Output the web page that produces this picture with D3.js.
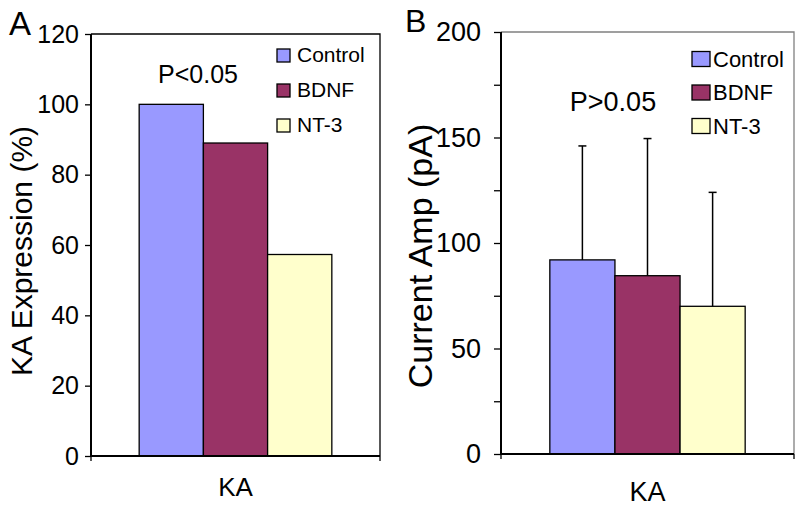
<!DOCTYPE html>
<html><head><meta charset="utf-8">
<script src="https://cdn.jsdelivr.net/npm/d3@7"></script>
<style>body{margin:0;background:#fff}svg{display:block}text{font-family:Arial,"Liberation Sans",sans-serif;fill:#000}</style>
</head><body><svg id="c" width="800" height="507"></svg>
<script>
const categories = ["KA"];
const series = ["Control", "BDNF", "NT-3"];
const colors = ["#9999FF", "#993366", "#FFFFCC"];
const valuesA = [100, 89, 57.3];
const valuesB = [92, 84.5, 70];
const errorsB = [54, 65, 54];
const ticksA = [0, 20, 40, 60, 80, 100, 120];
const ticksB = [0, 50, 100, 150, 200];
const minorTicksB = [25, 75, 125, 175];

const svg = d3.select("#c");

function panel(cfg) {
  const g = svg.append("g");
  const y = d3.scaleLinear().domain(cfg.domain).range([cfg.bottom, cfg.top]);
  const x0 = d3.scaleBand().domain(categories).range([cfg.left, cfg.right]);
  const bw = x0.bandwidth();
  const off = bw * 0.75 / 4.5;
  const x1 = d3.scaleBand().domain(series).range([off, bw - off]);

  g.append("path")
    .attr("d", `M${cfg.left},${cfg.top}H${cfg.right}V${cfg.bottom}`)
    .attr("fill", "none").attr("stroke", cfg.borderColor).attr("stroke-width", 1.3);

  categories.forEach(cat => {
    series.forEach((s, i) => {
      g.append("rect")
        .attr("x", x0(cat) + x1(s))
        .attr("y", y(cfg.values[i]))
        .attr("width", x1.bandwidth())
        .attr("height", y(0) - y(cfg.values[i]))
        .attr("fill", colors[i])
        .attr("stroke", "#000").attr("stroke-width", 1.3);
      if (cfg.errors) {
        const cx = x0(cat) + x1(s) + x1.bandwidth() / 2;
        const top = y(cfg.values[i] + cfg.errors[i]);
        g.append("line").attr("x1", cx).attr("x2", cx)
          .attr("y1", y(cfg.values[i])).attr("y2", top)
          .attr("stroke", "#000").attr("stroke-width", 1.5);
        g.append("line").attr("x1", cx - 4).attr("x2", cx + 4)
          .attr("y1", top).attr("y2", top)
          .attr("stroke", "#000").attr("stroke-width", 1.5);
      }
    });
  });

  const ay = g.append("g").attr("transform", `translate(${cfg.left},0)`)
    .call(d3.axisLeft(y).tickValues(cfg.ticks).tickSize(cfg.tickLen).tickPadding(cfg.tickPad).tickFormat(d3.format("d")));
  ay.select(".domain").remove();
  ay.selectAll(".tick line").attr("stroke", "#000").attr("stroke-width", 1.3);
  ay.selectAll("text").attr("font-size", cfg.tickFs).attr("font-family", "Arial, 'Liberation Sans', sans-serif").attr("fill", "#000");
  if (cfg.minor) {
    const am = g.append("g").attr("transform", `translate(${cfg.left},0)`)
      .call(d3.axisLeft(y).tickValues(cfg.minor).tickSize(cfg.tickLen).tickFormat(""));
    am.select(".domain").remove();
    am.selectAll(".tick line").attr("stroke", "#000").attr("stroke-width", 1.3);
  }
  g.append("line").attr("x1", cfg.left).attr("x2", cfg.left)
    .attr("y1", cfg.top).attr("y2", cfg.bottom)
    .attr("stroke", "#000").attr("stroke-width", 2);

  g.append("line").attr("x1", cfg.left).attr("x2", cfg.right)
    .attr("y1", y(0)).attr("y2", y(0))
    .attr("stroke", "#000").attr("stroke-width", 2);
  [cfg.left, cfg.right].forEach(px => {
    g.append("line").attr("x1", px).attr("x2", px)
      .attr("y1", y(0)).attr("y2", y(0) + 5)
      .attr("stroke", "#000").attr("stroke-width", 1.3);
  });
  categories.forEach(cat => {
    g.append("text").attr("x", x0(cat) + bw / 2).attr("y", cfg.catY)
      .attr("text-anchor", "middle").attr("font-size", cfg.catFs).text(cat);
  });

  g.append("text")
    .attr("transform", `translate(${cfg.titleX},${cfg.titleY}) rotate(-90)`)
    .attr("text-anchor", "middle").attr("font-size", cfg.titleFs).text(cfg.title);

  g.append("text").attr("x", cfg.letterX).attr("y", cfg.letterY)
    .attr("font-size", cfg.letterFs).text(cfg.letter);

  g.append("text").attr("x", cfg.pX).attr("y", cfg.pY)
    .attr("text-anchor", "middle").attr("font-size", cfg.pFs).text(cfg.p);

  series.forEach((s, i) => {
    const ly = cfg.legY + i * cfg.legStep;
    g.append("rect").attr("x", cfg.legX).attr("y", ly - cfg.sqH)
      .attr("width", cfg.sqW).attr("height", cfg.sqH)
      .attr("fill", colors[i]).attr("stroke", "#000").attr("stroke-width", 1.3);
    g.append("text").attr("x", cfg.legX + cfg.sqW + cfg.legGap).attr("y", ly)
      .attr("font-size", cfg.legFs).text(s);
  });
}

panel({
  left: 91, right: 380, top: 34, bottom: 456, domain: [0, 120],
  values: valuesA, ticks: ticksA, tickLen: 6, tickPad: 6, tickFs: 25,
  borderColor: "#000", catY: 496, catFs: 26,
  title: "KA Expression (%)", titleX: 32, titleY: 251, titleFs: 30,
  letter: "A", letterX: 9, letterY: 35, letterFs: 33,
  p: "P<0.05", pX: 198, pY: 83, pFs: 25,
  legX: 277, legY: 62, legStep: 35, sqW: 13, sqH: 13, legGap: 7, legFs: 21
});

panel({
  left: 501, right: 794, top: 32, bottom: 454, domain: [0, 200],
  values: valuesB, errors: errorsB, ticks: ticksB, minor: minorTicksB, tickLen: 7, tickPad: 13, tickFs: 27,
  borderColor: "#808080", catY: 501, catFs: 27,
  title: "Current Amp (pA)", titleX: 432, titleY: 256, titleFs: 34,
  letter: "B", letterX: 405, letterY: 32, letterFs: 32,
  p: "P>0.05", pX: 613, pY: 111, pFs: 27,
  legX: 692, legY: 66.5, legStep: 33.5, sqW: 18, sqH: 15, legGap: 3, legFs: 22
});
</script></body></html>
